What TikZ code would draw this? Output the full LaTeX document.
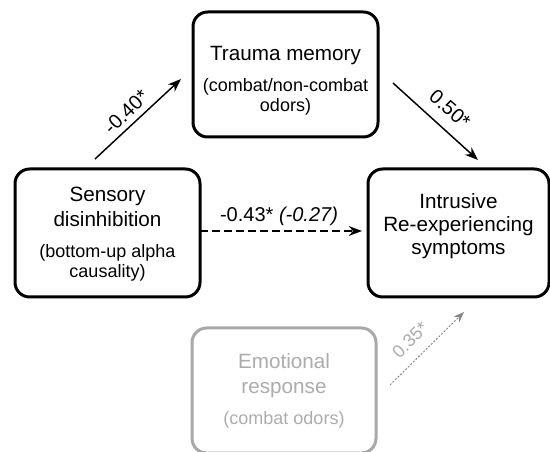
\documentclass[tikz,border=0pt]{standalone}
\usepackage{fontspec}
\setmainfont{Liberation Sans}
\usetikzlibrary{arrows.meta}

\tikzset{every picture/.style={line width=0.75pt}}
\tikzset{
  box/.style={draw, rounded corners=11pt, line width=2.25pt, inner sep=0pt},
  faint box/.style={box, draw={rgb, 255:red, 168; green, 168; blue, 168 }},
  title/.style={align=center, inner sep=0.75pt, font=\fontsize{15.5}{18.75}\selectfont},
  subtitle/.style={align=center, inner sep=0.75pt, font=\fontsize{13.5}{15.5}\selectfont},
  coef/.style={inner sep=0.75pt, font=\fontsize{15}{18}\selectfont},
  faint/.style={color={rgb, 255:red, 172; green, 172; blue, 172 }},
  path arrow/.style={line width=1.1pt, -{Stealth[length=10pt, width=7.5pt]}},
  weak arrow/.style={line width=0.7pt, color={rgb, 255:red, 135; green, 135; blue, 135 },
    dash pattern={on 1.5pt off 1.2pt}, -{Stealth[length=8pt, width=6pt]}}
}

\begin{document}
\begin{tikzpicture}[x=0.75pt,y=0.75pt,yscale=-1,xscale=1]
\useasboundingbox (0,0) rectangle (550,452);

%Shape: Rounded Rect [id:trauma]
\node [box, minimum width=138.75pt, minimum height=93.75pt] (trauma) at (285.5,74.5) {};
%Shape: Rounded Rect [id:sensory]
\node [box, minimum width=138.75pt, minimum height=96pt] (sensory) at (107.5,233) {};
%Shape: Rounded Rect [id:intrusive]
\node [box, minimum width=135.75pt, minimum height=96pt] (intrusive) at (458.5,233) {};
%Shape: Rounded Rect [id:emotional]
\node [faint box, minimum width=138pt, minimum height=93.75pt] (emotional) at (284,390.5) {};

% Text Node
\draw (285.5,56) node [title] (traumaT) {Trauma memory};
% Text Node
\draw (285.5,97) node [subtitle] (traumaS) {(combat/non-combat\\odors)};
% Text Node
\draw (107.5,207) node [title] (sensoryT) {Sensory\\disinhibition};
% Text Node
\draw (107.5,263) node [subtitle] (sensoryS) {(bottom-up alpha\\causality)};
% Text Node
\draw (458.5,226) node [title, font=\fontsize{15.5}{17.25}\selectfont] (intrusiveT) {Intrusive\\Re-experiencing\\symptoms};
% Text Node
\draw (284,376) node [title, faint] (emotionalT) {Emotional\\response};
% Text Node
\draw (284,420) node [subtitle, faint] (emotionalS) {(combat odors)};

%Arrow ends
\coordinate (s2tA) at (95,159);
\coordinate (s2tB) at (181,79);
\coordinate (t2iA) at (393,83);
\coordinate (t2iB) at (478,160);
\coordinate (s2iA) at (200,231);
\coordinate (s2iB) at (362,231);
\coordinate (e2iA) at (390,385);
\coordinate (e2iB) at (464,312);

%Straight Lines
\draw [path arrow] (s2tA) -- (s2tB);
%Straight Lines
\draw [path arrow] (t2iA) -- (t2iB);
%Straight Lines
\draw [path arrow, dash pattern={on 6pt off 3pt}] (s2iA) -- (s2iB);
%Straight Lines
\draw [weak arrow] (e2iA) -- (e2iB);

% Text Node
\draw (126,112) node [coef, rotate=44] (c1) {-0.40*};
% Text Node
\draw (450,109) node [coef, rotate=-41] (c2) {0.50*};
% Text Node
\draw (279,216) node [coef] (c3) {-0.43* \textit{(-0.27)}};
% Text Node
\draw (410,340) node [coef, faint, rotate=45, font=\fontsize{13.5}{16}\selectfont] (c4) {0.35*};

\end{tikzpicture}
\end{document}
